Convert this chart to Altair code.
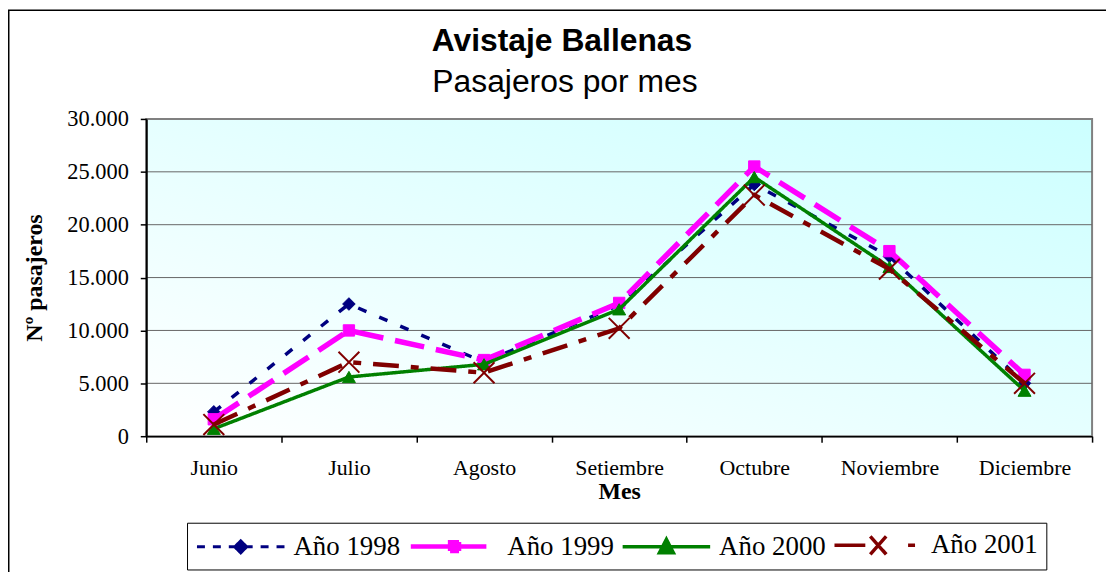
import altair as alt
import pandas as pd

# ---------------- data ----------------
meses = ["Junio", "Julio", "Agosto", "Setiembre", "Octubre", "Noviembre", "Diciembre"]
series = ["Año 1998", "Año 1999", "Año 2000", "Año 2001"]
a1998 = [2300, 12500, 7000, 12400, 23800, 17000, 5000]
a1999 = [1600, 10000, 7200, 12600, 25500, 17500, 5800]
a2000 = [700, 5600, 6800, 12000, 24500, 16000, 4300]
a2001 = [1100, 7000, 6000, 10200, 22800, 15800, 5000]
y_ticks = [0, 5000, 10000, 15000, 20000, 25000, 30000]
grid_vals = [5000, 10000, 15000, 20000, 25000]

# ---------------- styles ----------------
colores = ["#000080", "#FF00FF", "#008000", "#800000"]
dashes = [[9, 14], [30, 12], [1, 0], [26, 12, 8, 12]]
widths = [3.5, 5.5, 3.5, 4.5]
shapes = ["diamond", "square", "triangle-up", "M-1,-1L1,1M-1,1L1,-1"]
sizes = [160, 130, 170, 440]
pt_stroke = [1, 1, 1, 2]

# legend symbol drawings, in px: symbol is 88px wide, marker centred at x=44
leg_segments = [
    [(0, 8), (16, 24), (32, 56), (64, 72), (80, 88)],
    [(0, 76)],
    [(0, 88)],
    [(0, 31), (74, 81)],
]
leg_polys = [
    [(0, -6), (6, 0), (0, 6), (-6, 0)],
    [(-4.5, -4.5), (4.5, -4.5), (4.5, 4.5), (-4.5, 4.5)],
    [(0, -7.5), (7, 6), (-7, 6)],
    None,
]
leg_cross = [None, None, None, [((-8, -9), (8, 9)), ((-8, 9), (8, -9))]]
legend_sw = [3, 4.5, 3.5, 3.5]

SYM = 25.0          # legend symbol box (px); path units are SYM/2 px
U = SYM / 2.0


def fx(x):
    return "%.3f" % (x / U - 1)


def fy(y):
    return "%.3f" % (y / U)


def build_path(segs, poly, cross):
    p = ""
    for a, b in segs:
        p += "M" + fx(a) + ",0L" + fx(b) + ",0"
    if poly:
        pts = [(44 + dx, dy) for dx, dy in poly]
        p += "M" + fx(pts[0][0]) + "," + fy(pts[0][1])
        for x, y in pts[1:]:
            p += "L" + fx(x) + "," + fy(y)
        p += "Z"
    if cross:
        for (x0, y0), (x1, y1) in cross:
            p += "M" + fx(44 + x0) + "," + fy(y0) + "L" + fx(44 + x1) + "," + fy(y1)
    return p


legend_paths = [build_path(s, p, c) for s, p, c in zip(leg_segments, leg_polys, leg_cross)]

W, H = 951, 319

rows = []
for s, vals in zip(series, [a1998, a1999, a2000, a2001]):
    for m, v in zip(meses, vals):
        rows.append({"Mes": m, "serie": s, "pasajeros": v})
df = pd.DataFrame(rows)


def nested(values):
    def lit(v):
        return "'" + v + "'" if isinstance(v, str) else str(v)
    expr = lit(values[-1])
    for s, v in reversed(list(zip(series[:-1], values[:-1]))):
        expr = "(datum.value === '" + s + "' ? " + lit(v) + " : " + expr + ")"
    return expr


x_scale = alt.Scale(type="band", domain=meses, paddingInner=0, paddingOuter=0)
y_scale = alt.Scale(domain=[0, 30000], nice=False, zero=True)

x_axis = alt.Axis(
    title="Mes", labelAngle=0, labelFont="Liberation Serif", labelFontSize=22,
    labelColor="black", labelPadding=16, tickBand="extent", ticks=True, tickSize=6,
    tickColor="black", tickWidth=1.5, domainColor="black", domainWidth=1.5, grid=False,
    titleFont="Liberation Serif", titleFontSize=24, titleFontWeight="bold",
    titleColor="black", titlePadding=1, zindex=1,
)
y_axis = alt.Axis(
    title="Nº pasajeros", values=y_ticks,
    labelExpr="replace(format(datum.value, ','), ',', '.')",
    labelFont="Liberation Serif", labelFontSize=22.5, labelColor="black", labelPadding=12,
    ticks=True, tickSize=6, tickColor="black", tickWidth=1.5, domainColor="black",
    domainWidth=2, grid=False, titleFont="Liberation Serif", titleFontSize=24,
    titleFontWeight="bold", titleColor="black", titlePadding=20, zindex=1,
    orient="left",
)

legend = alt.Legend(
    title=None, orient="none", legendX=41, legendY=406, direction="horizontal",
    columns=4, labelFont="Liberation Serif", labelFontSize=27, labelColor="black",
    labelOffset=70, columnPadding=1, padding=8, strokeColor="black", fillColor="white",
    symbolSize=SYM * SYM,
    symbolType={"expr": nested(legend_paths)},
    symbolStrokeColor={"expr": "scale('color', datum.value)"},
    symbolStrokeWidth={"expr": nested(legend_sw)},
    symbolDash=[1, 0],
    symbolOpacity=1,
)
color_scale = alt.Scale(domain=series, range=colores)

one = pd.DataFrame({"k": [0]})

bg = alt.Chart(one).mark_rect(
    fill=alt.LinearGradient(
        gradient="linear",
        stops=[alt.GradientStop(color="#ffffff", offset=0),
               alt.GradientStop(color="#ccffff", offset=1)],
        x1=0, y1=1, x2=1, y2=0,
    ),
    stroke="#808080", strokeWidth=2,
).encode(x=alt.value(0), x2=alt.value(W), y=alt.value(0), y2=alt.value(H))

grid = alt.Chart(pd.DataFrame({"pasajeros": grid_vals})).mark_rule(
    color="#666666", strokeWidth=1
).encode(y=alt.Y("pasajeros:Q", scale=y_scale, axis=y_axis))

layers = [bg, grid]
for i, s in enumerate(series):
    base = alt.Chart(df).transform_filter(alt.datum.serie == s)
    line = base.mark_line(
        color=colores[i], strokeDash=dashes[i], strokeWidth=widths[i]
    ).encode(
        x=alt.X("Mes:N", scale=x_scale, axis=x_axis, sort=meses),
        y=alt.Y("pasajeros:Q", scale=y_scale, axis=y_axis),
    )
    pts = base.mark_point(
        shape=shapes[i], filled=True, size=sizes[i],
        stroke=colores[i], strokeWidth=pt_stroke[i], opacity=1,
    ).encode(
        x=alt.X("Mes:N", scale=x_scale, axis=x_axis, sort=meses),
        y=alt.Y("pasajeros:Q", scale=y_scale, axis=y_axis),
        color=alt.Color("serie:N", scale=color_scale, legend=legend),
    )
    layers += [line, pts]

title_t = alt.Chart(one).mark_text(
    text="Avistaje Ballenas", font="Liberation Sans", fontSize=32, fontWeight="bold",
    color="black", align="center", baseline="alphabetic",
).encode(x=alt.value(418), y=alt.value(-68))
subtitle_t = alt.Chart(one).mark_text(
    text="Pasajeros por mes", font="Liberation Sans", fontSize=32,
    color="black", align="center", baseline="alphabetic",
).encode(x=alt.value(421), y=alt.value(-27))

border = alt.Chart(one).mark_rect(
    fill="transparent", stroke="black", strokeWidth=1.5
).encode(x=alt.value(-138.25), x2=alt.value(980), y=alt.value(-109.25), y2=alt.value(470))

layers += [title_t, subtitle_t, border]

chart = alt.layer(*layers).properties(
    width=W, height=H,
    padding={"left": 139, "top": 110, "right": 14, "bottom": 135},
    autosize=alt.AutoSizeParams(type="none"),
    background="white",
).configure_view(stroke=None)

chart.save("out.html", embed_options={"renderer": "svg", "actions": False})
